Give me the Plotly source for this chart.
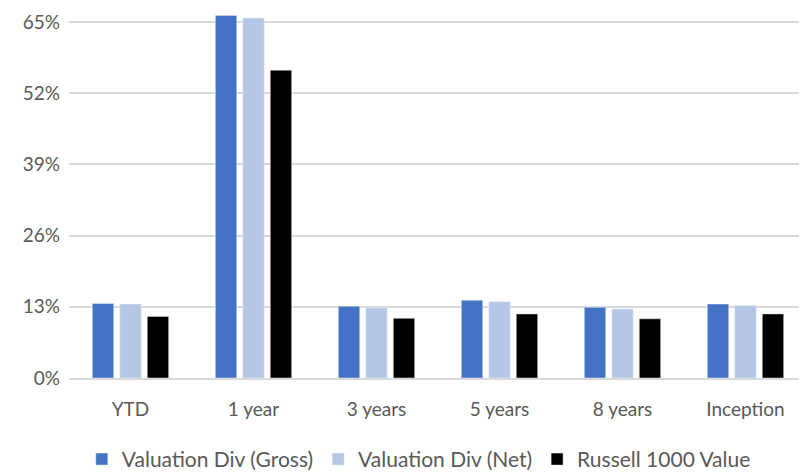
import plotly.graph_objects as go

categories = ["YTD", "1 year", "3 years", "5 years", "8 years", "Inception"]
gross = [13.6, 66.2, 13.1, 14.2, 12.9, 13.5]
net = [13.5, 65.7, 12.8, 13.9, 12.6, 13.25]
russell = [11.25, 56.2, 10.9, 11.7, 10.8, 11.7]
tick_vals = [0, 13, 26, 39, 52, 65]
tick_text = ["0%", "13%", "26%", "39%", "52%", "65%"]

FONT = "Lato, Liberation Sans, sans-serif"

fig = go.Figure()
fig.add_trace(go.Bar(name="Valuation Div (Gross)", x=categories, y=gross, marker_color="#4472C4"))
fig.add_trace(go.Bar(name="Valuation Div (Net)", x=categories, y=net, marker_color="#B4C7E7"))
fig.add_trace(go.Bar(name="Russell 1000 Value", x=categories, y=russell, marker_color="#000000"))

fig.update_layout(
    width=799, height=465,
    margin=dict(l=61, r=0, t=2.5, b=95, autoexpand=False),
    paper_bgcolor="white", plot_bgcolor="white",
    barmode="group", bargap=0.33, bargroupgap=0.22,
    font=dict(family=FONT, size=19, color="#595959"),
    showlegend=True,
    legend=dict(orientation="h", x=0.474, xanchor="center", y=-0.222, yanchor="middle",
                font=dict(size=21, color="#595959"), itemwidth=30, tracegroupgap=0),
    xaxis=dict(showgrid=False, showline=True, linecolor="#D9D9D9", linewidth=1.5,
               ticks="", tickfont=dict(size=19, color="#595959"), ticklabelstandoff=13),
    yaxis=dict(range=[0, 67], tickvals=tick_vals, ticktext=tick_text,
               showgrid=True, gridcolor="#D9D9D9", gridwidth=1.5, zeroline=False,
               ticks="", tickfont=dict(size=19, color="#595959"), ticklabelstandoff=8),
)

fig.write_html("out.html")
